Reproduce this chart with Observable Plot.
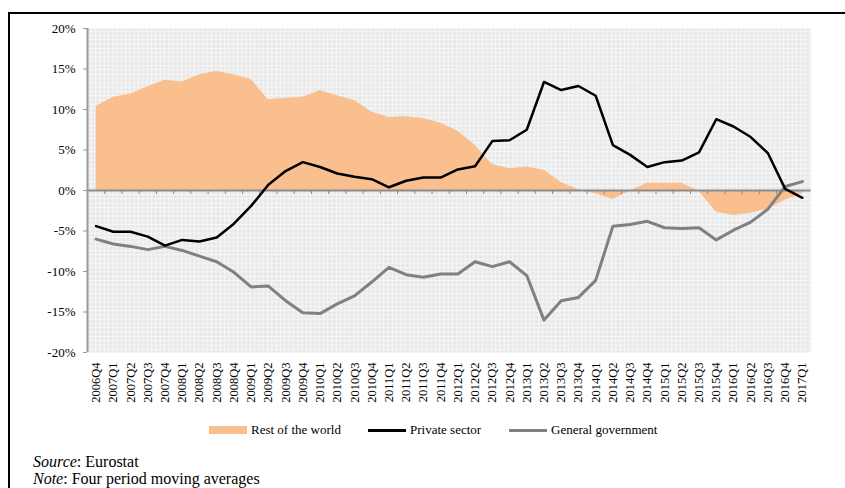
<!DOCTYPE html>
<html>
<head>
<meta charset="utf-8">
<script src="https://cdn.jsdelivr.net/npm/d3@7"></script>
<script src="https://cdn.jsdelivr.net/npm/@observablehq/plot@0.6"></script>
<style>
  html, body { margin: 0; padding: 0; background: #fff; }
  #wrap { position: relative; width: 845px; height: 488px; overflow: hidden; font-family: "Liberation Serif", "Times New Roman", serif; }
  #box { position: absolute; left: 8px; top: 12px; width: 900px; height: 600px; border-left: 2px solid #000; border-top: 2px solid #000; }
  #chart { position: absolute; left: 0; top: 0; }
  .leg { position: absolute; top: 422px; font-size: 13px; color: #000; line-height: 16px; white-space: nowrap; }
  .sw { position: absolute; }
  .cap { position: absolute; left: 33px; font-size: 16px; line-height: 16px; color: #000; white-space: nowrap; }
</style>
</head>
<body>
<div id="wrap">
  <div id="box"></div>
  <div id="chart"></div>
  <div class="sw" style="left:209px; top:426px; width:38px; height:8px; background:#F9BF8F;"></div>
  <div class="leg" style="left:251px;">Rest of the world</div>
  <div class="sw" style="left:368px; top:429px; width:38px; height:3px; background:#000;"></div>
  <div class="leg" style="left:410px;">Private sector</div>
  <div class="sw" style="left:509px; top:429px; width:38px; height:3px; background:#808080;"></div>
  <div class="leg" style="left:551px;">General government</div>
  <div class="cap" style="top:454px;"><i>Source</i>: Eurostat</div>
  <div class="cap" style="top:471px;"><i>Note</i>: Four period moving averages</div>
</div>
<script>
const quarters = ["2006Q4","2007Q1","2007Q2","2007Q3","2007Q4","2008Q1","2008Q2","2008Q3","2008Q4",
  "2009Q1","2009Q2","2009Q3","2009Q4","2010Q1","2010Q2","2010Q3","2010Q4","2011Q1","2011Q2","2011Q3","2011Q4",
  "2012Q1","2012Q2","2012Q3","2012Q4","2013Q1","2013Q2","2013Q3","2013Q4","2014Q1","2014Q2","2014Q3","2014Q4",
  "2015Q1","2015Q2","2015Q3","2015Q4","2016Q1","2016Q2","2016Q3","2016Q4","2017Q1"];
const restOfWorld = [10.4, 11.5, 11.9, 12.8, 13.6, 13.4, 14.3, 14.7, 14.3, 13.7, 11.2, 11.4, 11.5, 12.3, 11.7, 11.1,
  9.7, 9.0, 9.1, 8.9, 8.3, 7.3, 5.6, 3.2, 2.7, 2.9, 2.5, 1.0, 0.1, -0.4, -1.1, -0.1, 0.9, 0.9, 0.9, -0.1,
  -2.7, -3.1, -2.8, -2.3, -1.2, -0.4];
const privateSector = [-4.4, -5.1, -5.1, -5.7, -6.8, -6.1, -6.3, -5.8, -4.1, -1.9, 0.7, 2.4, 3.5, 2.9, 2.1, 1.7,
  1.4, 0.4, 1.2, 1.6, 1.6, 2.6, 3.0, 6.1, 6.2, 7.5, 13.4, 12.4, 12.9, 11.7, 5.6, 4.4, 2.9, 3.5, 3.7, 4.7,
  8.8, 7.9, 6.6, 4.6, 0.2, -0.9];
const generalGov = [-6.0, -6.6, -6.9, -7.3, -6.9, -7.4, -8.1, -8.8, -10.1, -11.9, -11.8, -13.6, -15.1, -15.2, -14.0, -13.0,
  -11.3, -9.5, -10.4, -10.7, -10.3, -10.3, -8.8, -9.4, -8.8, -10.5, -16.0, -13.6, -13.2, -11.1, -4.4, -4.2, -3.8, -4.6, -4.7, -4.6,
  -6.1, -4.9, -3.9, -2.3, 0.5, 1.1];
const yTicks = [-20, -15, -10, -5, 0, 5, 10, 15, 20];

const rows = quarters.map((q, i) => ({i, q, row: restOfWorld[i], priv: privateSector[i], gov: generalGov[i]}));
const idx = quarters.map((q, i) => i);
const bounds = idx.slice(0, -1).map(i => i + 0.5);

const chart = Plot.plot({
  width: 845,
  height: 410,
  marginLeft: 87,
  marginRight: 34.5,
  marginTop: 28,
  marginBottom: 58,
  style: {fontFamily: "'Liberation Serif', 'Times New Roman', serif", fontSize: "13px", color: "#000", background: "transparent"},
  x: {domain: [-0.5, quarters.length - 0.5], axis: null},
  y: {domain: [-20, 20], axis: null},
  marks: [
    Plot.frame({fill: "url(#bgpat)", stroke: null}),
    Plot.areaY(rows, {x: "i", y: "row", fill: "#F9BF8F"}),
    Plot.ruleY([0], {stroke: "#8c8c8c", strokeWidth: 2}),
    Plot.ruleX(bounds, {y1: 0, y2: -0.5, stroke: "#8c8c8c", strokeWidth: 1}),
    Plot.ruleX([-0.5], {stroke: "#999", strokeWidth: 2}),
    Plot.axisY({ticks: yTicks, tickFormat: d => d + "%", tickSize: 4, tickPadding: 8, stroke: "#999", fontSize: 13, label: null}),
    Plot.axisX({ticks: idx, tickFormat: i => quarters[i], tickRotate: -90, tickSize: 0, tickPadding: 10, fontSize: 12.5, label: null}),
    Plot.line(rows, {x: "i", y: "gov", stroke: "#808080", strokeWidth: 3}),
    Plot.line(rows, {x: "i", y: "priv", stroke: "#000", strokeWidth: 2.5})
  ]
});
// background pattern (Excel-like fine grid fill)
const ns = "http://www.w3.org/2000/svg";
const defs = document.createElementNS(ns, "defs");
const pat = document.createElementNS(ns, "pattern");
pat.setAttribute("id", "bgpat");
pat.setAttribute("patternUnits", "userSpaceOnUse");
pat.setAttribute("width", "4.3");
pat.setAttribute("height", "4.3");
const r = document.createElementNS(ns, "rect");
r.setAttribute("width", "4.3"); r.setAttribute("height", "4.3"); r.setAttribute("fill", "#e8e8e8");
const p = document.createElementNS(ns, "path");
p.setAttribute("d", "M0,0.5H4.3M0.5,0V4.3");
p.setAttribute("stroke", "#f7f7f7"); p.setAttribute("stroke-width", "1");
pat.appendChild(r); pat.appendChild(p); defs.appendChild(pat);
chart.insertBefore(defs, chart.firstChild);
document.getElementById("chart").appendChild(chart);
</script>
</body>
</html>
